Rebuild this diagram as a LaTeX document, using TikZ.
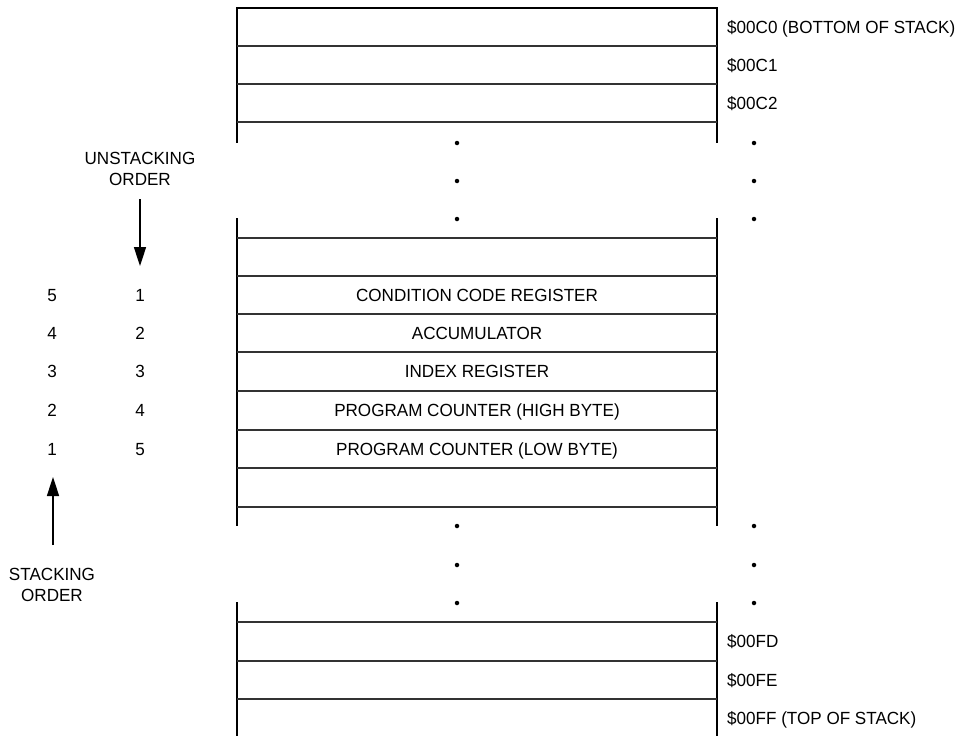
\documentclass[tikz,border=0pt]{standalone}
\usepackage{fontspec}
\setmainfont{Liberation Sans}[FakeStretch=0.97]
\usetikzlibrary{arrows.meta}
\begin{document}
\begin{tikzpicture}[x=1pt,y=-1pt,
  vline/.style={line width=2pt},
  hline/.style={line width=1.1pt,black!80},
  lbl/.style={font=\fontsize{17.6}{21}\selectfont,inner sep=0pt,anchor=base},
  rlbl/.style={lbl,anchor=base west},
  dot/.style={circle,fill=black,inner sep=0pt,minimum size=4.5pt},
  arr/.style={line width=1.6pt,-{Triangle[length=19pt,width=12pt]}}]
\useasboundingbox (0,0) rectangle (971,736);
% top section
\draw[vline] (237,8) -- (237,143);
\draw[vline] (717,8) -- (717,143);
\draw[line width=1.6pt] (236,8) -- (718,8);
\foreach \y in {46,84,122} \draw[hline] (237,\y) -- (717,\y);
% middle section
\draw[vline] (237,218) -- (237,526);
\draw[vline] (717,218) -- (717,526);
\foreach \y in {238,276,314,352,391,430,468,507} \draw[hline] (237,\y) -- (717,\y);
% bottom section
\draw[vline] (237,602) -- (237,736);
\draw[vline] (717,602) -- (717,736);
\foreach \y in {622,661,699} \draw[hline] (237,\y) -- (717,\y);
% dots
\foreach \y [count=\i] in {143,181,219} {
  \node[dot] (dl\i) at (457,\y) {};
  \node[dot] (dr\i) at (754,\y) {};
}
\foreach \y [count=\i] in {526,565,603} {
  \node[dot] (el\i) at (457,\y) {};
  \node[dot] (er\i) at (754,\y) {};
}
% right labels
\node[rlbl] (a0) at (727,33) {\$00C0 (BOTTOM OF STACK)};
\node[rlbl] (a1) at (727,71) {\$00C1};
\node[rlbl] (a2) at (727,109) {\$00C2};
\node[rlbl] (b0) at (727,647.5) {\$00FD};
\node[rlbl] (b1) at (727,686) {\$00FE};
\node[rlbl] (b2) at (727,724.5) {\$00FF (TOP OF STACK)};
% center labels
\node[lbl] (ccr) at (477,301) {CONDITION CODE REGISTER};
\node[lbl] (acc) at (477,339) {ACCUMULATOR};
\node[lbl] (ix) at (477,377.5) {INDEX REGISTER};
\node[lbl] (pch) at (477,416.5) {PROGRAM COUNTER (HIGH BYTE)};
\node[lbl] (pcl) at (477,455) {PROGRAM COUNTER (LOW BYTE)};
% order numbers
\foreach \y/\s/\u [count=\i] in {301/5/1,339/4/2,377.5/3/3,416.5/2/4,455/1/5} {
  \node[lbl] (s\i) at (52,\y) {\s};
  \node[lbl] (u\i) at (140,\y) {\u};
}
% unstacking
\node[lbl,align=center,anchor=center] (unst) at (140,168.5) {UNSTACKING\\ORDER};
\coordinate (ua) at (140,199);
\coordinate (ub) at (140,266);
\draw[arr] (ua) -- (ub);
% stacking
\node[lbl,align=center,anchor=center] (st) at (52,584.5) {STACKING\\ORDER};
\coordinate (sa) at (53,545);
\coordinate (sb) at (53,477);
\draw[arr] (sa) -- (sb);
\end{tikzpicture}
\end{document}
